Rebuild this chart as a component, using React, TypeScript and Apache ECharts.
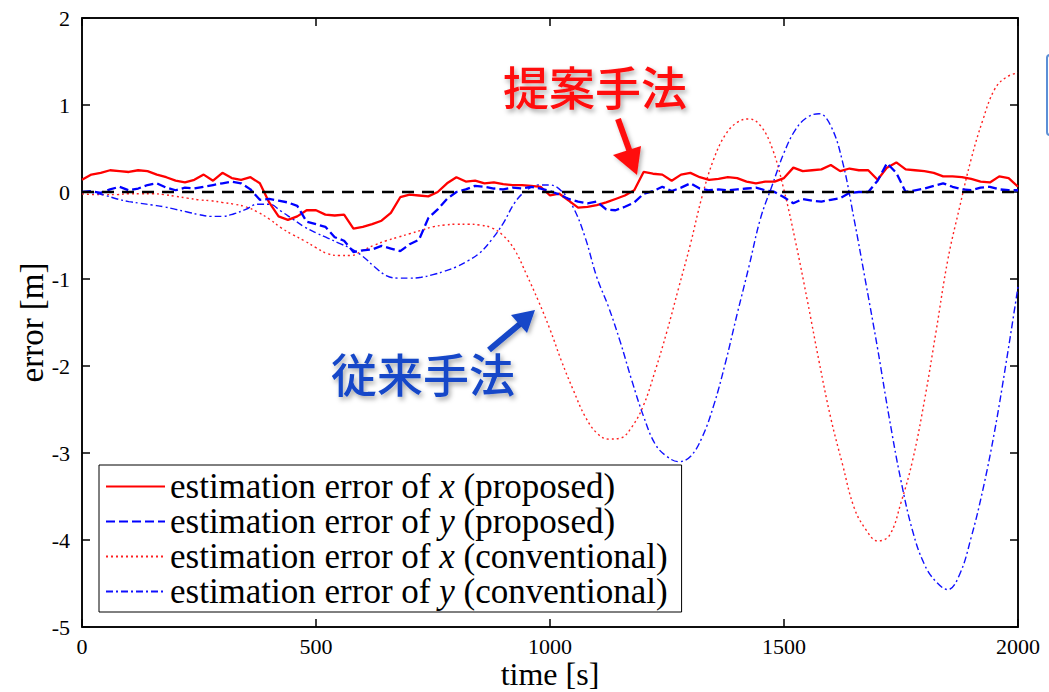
import React, { useEffect, useRef } from "react";
import * as echarts from "echarts";

const xTicks = [0, 500, 1000, 1500, 2000];
const yTicks = [-5, -4, -3, -2, -1, 0, 1, 2];
const seriesNames = [
  "estimation error of x (proposed)",
  "estimation error of y (proposed)",
  "estimation error of x (conventional)",
  "estimation error of y (conventional)",
];
const annotationProposed = "提案手法";
const annotationConventional = "従来手法";

const proposedStep = 20;
const proposedX = [
  0.14, 0.2, 0.22, 0.25, 0.24, 0.23, 0.25, 0.24, 0.2, 0.17,
  0.13, 0.11, 0.14, 0.2, 0.13, 0.22, 0.16, 0.14, 0.17, 0.1,
  -0.12, -0.28, -0.32, -0.28, -0.21, -0.21, -0.26, -0.27, -0.26, -0.42,
  -0.4, -0.37, -0.33, -0.24, -0.06, -0.03, -0.04, -0.05, 0.0, 0.1,
  0.17, 0.12, 0.13, 0.1, 0.11, 0.09, 0.08, 0.08, 0.07, 0.06,
  -0.04, -0.02, -0.1, -0.18, -0.17, -0.15, -0.12, -0.08, -0.04, 0.02,
  0.23, 0.21, 0.2, 0.13, 0.2, 0.22, 0.17, 0.14, 0.15, 0.17,
  0.16, 0.12, 0.1, 0.12, 0.12, 0.16, 0.28, 0.24, 0.25, 0.26,
  0.31, 0.24, 0.27, 0.25, 0.25, 0.14, 0.28, 0.34, 0.26, 0.25,
  0.24, 0.22, 0.18, 0.18, 0.17, 0.15, 0.12, 0.11, 0.18, 0.16,
  0.06,
];
const proposedY = [
  0.0, 0.01, -0.01, 0.03, 0.06, 0.02, 0.04, 0.08, 0.1, 0.05,
  0.02, 0.05, 0.04, 0.06, 0.08, 0.1, 0.12, 0.1, 0.03, -0.09,
  -0.08, -0.1, -0.12, -0.16, -0.34, -0.37, -0.4, -0.52, -0.56, -0.69,
  -0.67, -0.66, -0.62, -0.65, -0.68, -0.6, -0.55, -0.3, -0.2, -0.08,
  0.0, 0.03, 0.07, 0.06, 0.04, 0.03, 0.05, 0.04, 0.06, 0.04,
  0.01, -0.03, -0.08, -0.11, -0.13, -0.11, -0.2, -0.21, -0.17, -0.12,
  -0.02, 0.01, 0.06, 0.01, 0.05, 0.1, 0.04, 0.02, 0.03, 0.02,
  0.03, 0.04, 0.05, 0.02, 0.0, -0.06, -0.13, -0.08, -0.1, -0.11,
  -0.09, -0.07, -0.01, 0.0, 0.0, 0.13, 0.33, 0.22, 0.0, 0.02,
  0.04, 0.07, 0.1, 0.06, 0.03, 0.02, 0.05, 0.06, 0.03, 0.02,
  0.02,
];

const conventionalStep = 25;
const conventionalX = [
  -0.02, -0.03, -0.03, -0.03, -0.02, -0.02, -0.02, -0.03, -0.05, -0.07,
  -0.09, -0.1, -0.12, -0.14, -0.17, -0.23, -0.31, -0.41, -0.49, -0.56,
  -0.64, -0.71, -0.73, -0.73, -0.67, -0.61, -0.56, -0.52, -0.48, -0.44,
  -0.4, -0.38, -0.37, -0.37, -0.38, -0.41, -0.5, -0.67, -0.95, -1.25,
  -1.58, -1.95, -2.28, -2.58, -2.77, -2.84, -2.83, -2.7, -2.45, -2.05,
  -1.6, -1.1, -0.6, -0.05, 0.38, 0.66, 0.8, 0.84, 0.76, 0.5,
  0.02, -0.58, -1.25, -1.95, -2.6, -3.13, -3.63, -3.88, -4.01, -3.95,
  -3.57, -3.08, -2.4, -1.6, -0.78, -0.18, 0.38, 0.83, 1.18, 1.32,
  1.37,
];
const conventionalY = [
  0.0, -0.01, -0.04, -0.08, -0.11, -0.13, -0.15, -0.17, -0.2, -0.23,
  -0.26, -0.28, -0.28, -0.25, -0.2, -0.14, -0.14, -0.22, -0.31, -0.4,
  -0.47, -0.53, -0.59, -0.65, -0.74, -0.86, -0.96, -0.99, -0.99, -0.98,
  -0.95, -0.91, -0.86, -0.79, -0.7, -0.55, -0.36, -0.12, 0.02, 0.08,
  0.08, 0.01, -0.18, -0.52, -0.98, -1.32, -1.72, -2.17, -2.58, -2.9,
  -3.04, -3.1, -3.04, -2.82, -2.45, -1.96, -1.4, -0.86, -0.3, 0.08,
  0.45, 0.72, 0.86, 0.9, 0.76, 0.35, -0.32, -1.05, -1.8, -2.6,
  -3.32, -3.9, -4.28, -4.48, -4.57, -4.4, -3.97, -3.42, -2.75, -1.95,
  -1.09,
];
const zeroRefTimes = [0, 2000];
const zeroRefValues = [0, 0];

const toPairs = (vals: number[], step: number) => vals.map((v, i) => [i * step, v]);

const SERIF = "Liberation Serif";
const CJK = "'Noto Sans CJK JP', 'Noto Sans CJK SC', sans-serif";

export default function App() {
  const ref = useRef<HTMLDivElement>(null);
  useEffect(() => {
    if (!ref.current) return;
    const chart = echarts.init(ref.current, null, { renderer: "svg" });
    const axisLine = { show: true, onZero: false, lineStyle: { color: "#000", width: 1.5 } };
    const tick = { show: true, inside: true, length: 8, lineStyle: { color: "#000", width: 1.5 } };
    const labelStyle = {
      color: "#000",
      fontFamily: SERIF,
      fontSize: 22,
      formatter: (v: number) => `{t|${v}}`,
      rich: { t: { fontFamily: SERIF, fontSize: 22, color: "#000" } },
    };
    const option: any = {
      animation: false,
      backgroundColor: "#fff",
      textStyle: { fontFamily: SERIF, color: "#000" },
      grid: {
        left: 82,
        top: 18,
        right: 31,
        bottom: 65,
        outerBoundsMode: "none",
        containLabel: false,
        show: true,
        borderColor: "#000",
        borderWidth: 1.5,
        backgroundColor: "transparent",
      },
      xAxis: [
        {
          type: "value",
          min: xTicks[0],
          max: xTicks[xTicks.length - 1],
          interval: 500,
          position: "bottom",
          axisLine,
          axisTick: tick,
          splitLine: { show: false },
          axisLabel: { ...labelStyle, margin: 8 },
          name: "time [s]",
          nameLocation: "middle",
          nameGap: 31,
          nameMoveOverlap: false,
          nameTextStyle: { color: "#000", fontFamily: SERIF, fontSize: 32 },
        },
        {
          type: "value",
          min: xTicks[0],
          max: xTicks[xTicks.length - 1],
          interval: 500,
          position: "top",
          axisLine,
          axisTick: tick,
          splitLine: { show: false },
          axisLabel: { show: false },
        },
      ],
      yAxis: [
        {
          type: "value",
          min: yTicks[0],
          max: yTicks[yTicks.length - 1],
          interval: 1,
          position: "left",
          axisLine,
          axisTick: tick,
          splitLine: { show: false },
          axisLabel: { ...labelStyle, margin: 12 },
          name: "error [m]",
          nameLocation: "middle",
          nameGap: 34,
          nameMoveOverlap: false,
          nameRotate: 90,
          nameTextStyle: { color: "#000", fontFamily: SERIF, fontSize: 33 },
        },
        {
          type: "value",
          min: yTicks[0],
          max: yTicks[yTicks.length - 1],
          interval: 1,
          position: "right",
          axisLine,
          axisTick: tick,
          splitLine: { show: false },
          axisLabel: { show: false },
        },
      ],
      legend: {
        data: seriesNames,
        orient: "vertical",
        left: 99,
        top: 465,
        padding: [4, 14, 3, 6],
        itemGap: 0,
        itemWidth: 59,
        itemHeight: 14,
        backgroundColor: "#fff",
        borderColor: "#000",
        borderWidth: 1,
        borderRadius: 0,
        itemStyle: { opacity: 0 },
        formatter: (name: string) => name.replace(/ of (x|y) /, " of {i|$1} "),
        textStyle: {
          color: "#000",
          fontFamily: SERIF,
          fontSize: 35,
          lineHeight: 35,
          rich: {
            i: { fontStyle: "italic", fontFamily: SERIF, fontSize: 35, color: "#000", lineHeight: 35 },
          },
        },
      },
      series: [
        {
          name: seriesNames[2],
          type: "line",
          symbol: "none",
          smooth: 0.4,
          data: toPairs(conventionalX, conventionalStep),
          lineStyle: { color: "#ff2020", width: 1.4, type: [2, 3] },
          itemStyle: { color: "#ff2020" },
          z: 2,
        },
        {
          name: seriesNames[3],
          type: "line",
          symbol: "none",
          smooth: 0.4,
          data: toPairs(conventionalY, conventionalStep),
          lineStyle: { color: "#1010ff", width: 1.4, type: [7, 3, 2, 3] },
          itemStyle: { color: "#1010ff" },
          z: 2,
        },
        {
          name: seriesNames[0],
          type: "line",
          symbol: "none",
          data: toPairs(proposedX, proposedStep),
          lineStyle: { color: "#ff0000", width: 2.3, type: "solid" },
          itemStyle: { color: "#ff0000" },
          z: 3,
        },
        {
          name: seriesNames[1],
          type: "line",
          symbol: "none",
          data: toPairs(proposedY, proposedStep),
          lineStyle: { color: "#0000ff", width: 2.3, type: [9, 4] },
          itemStyle: { color: "#0000ff" },
          z: 3,
        },
        {
          name: "zero",
          type: "line",
          symbol: "none",
          data: zeroRefTimes.map((t, i) => [t, zeroRefValues[i]]),
          lineStyle: { color: "#000", width: 2.5, type: [12, 8] },
          itemStyle: { color: "#000" },
          z: 4,
          silent: true,
        },
      ],
      graphic: [
        {
          type: "text",
          left: 503,
          top: 62,
          style: {
            text: annotationProposed,
            font: `500 46px ${CJK}`,
            fill: "#ff1010",
            textShadowColor: "rgba(0,0,0,0.35)",
            textShadowBlur: 5,
            textShadowOffsetX: 2,
            textShadowOffsetY: 3,
          },
          z: 10,
        },
        {
          type: "line",
          shape: { x1: 618, y1: 119, x2: 631, y2: 155 },
          style: { stroke: "#ff1010", lineWidth: 6, shadowColor: "rgba(0,0,0,0.3)", shadowBlur: 4, shadowOffsetX: 2, shadowOffsetY: 2 },
          z: 10,
        },
        {
          type: "polygon",
          shape: { points: [[613, 155], [641, 146], [637, 175]] },
          style: { fill: "#ff1010", shadowColor: "rgba(0,0,0,0.3)", shadowBlur: 4, shadowOffsetX: 2, shadowOffsetY: 2 },
          z: 10,
        },
        {
          type: "text",
          left: 331,
          top: 349,
          style: {
            text: annotationConventional,
            font: `500 46px ${CJK}`,
            fill: "#1446c8",
            textShadowColor: "rgba(0,0,0,0.35)",
            textShadowBlur: 5,
            textShadowOffsetX: 2,
            textShadowOffsetY: 3,
          },
          z: 10,
        },
        {
          type: "line",
          shape: { x1: 489, y1: 350, x2: 520, y2: 324 },
          style: { stroke: "#1446c8", lineWidth: 6, shadowColor: "rgba(0,0,0,0.3)", shadowBlur: 4, shadowOffsetX: 2, shadowOffsetY: 2 },
          z: 10,
        },
        {
          type: "polygon",
          shape: { points: [[511, 315], [527, 333], [535, 310]] },
          style: { fill: "#1446c8", shadowColor: "rgba(0,0,0,0.3)", shadowBlur: 4, shadowOffsetX: 2, shadowOffsetY: 2 },
          z: 10,
        },
        {
          type: "rect",
          shape: { x: 1047, y: 55, width: 40, height: 80, r: 3 },
          style: { fill: "none", stroke: "#5b8fd6", lineWidth: 2 },
          z: 10,
        },
      ],
    };
    chart.setOption(option);
    return () => chart.dispose();
  }, []);
  return (
    <div
      ref={ref}
      style={{ position: "absolute", left: 0, top: 0, width: 1049, height: 692, background: "#fff" }}
    />
  );
}
